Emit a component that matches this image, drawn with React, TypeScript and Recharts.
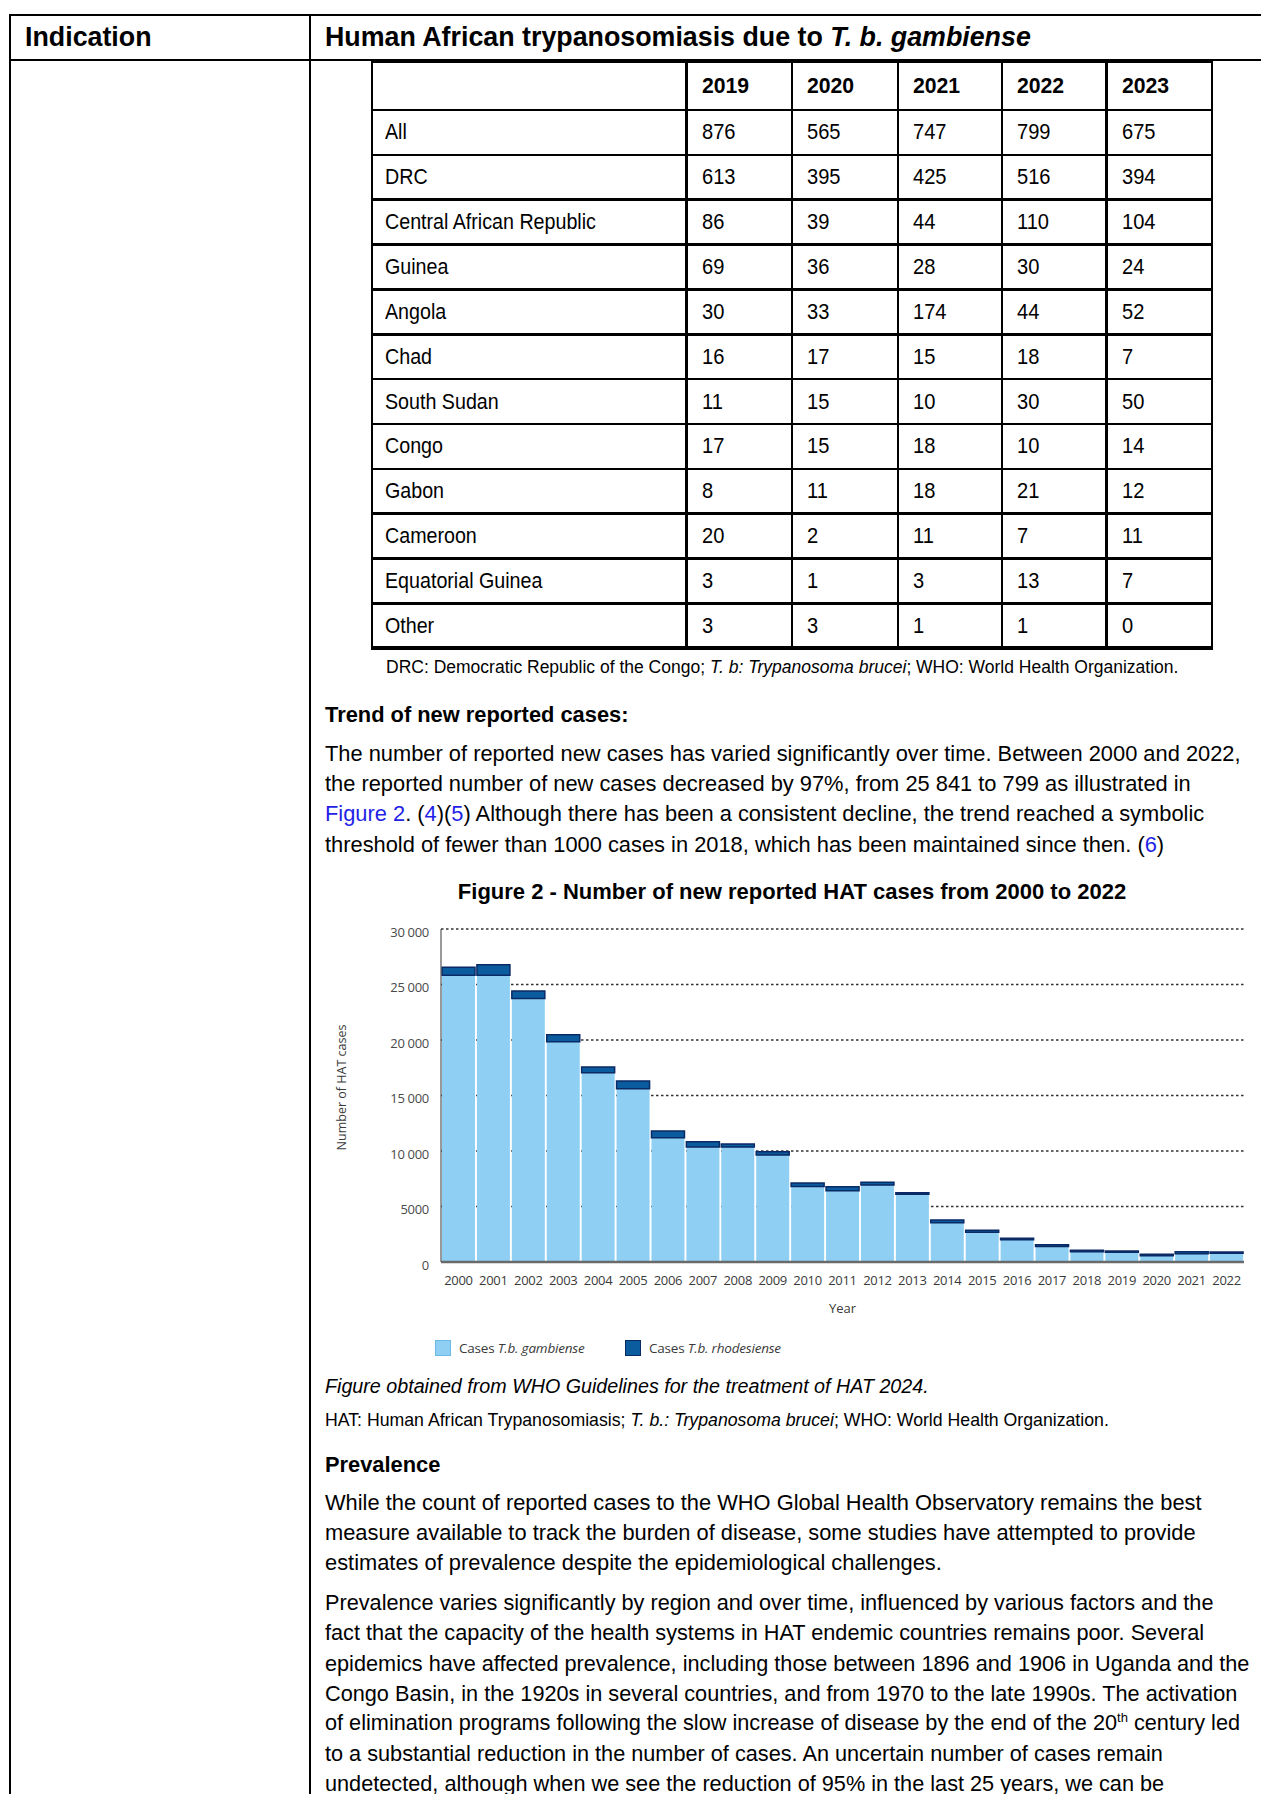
import React from 'react';
import { BarChart, Bar, XAxis, YAxis, CartesianGrid, Legend } from 'recharts';

// chart data
const years = ['2000', '2001', '2002', '2003', '2004', '2005', '2006', '2007', '2008', '2009', '2010', '2011',
  '2012', '2013', '2014', '2015', '2016', '2017', '2018', '2019', '2020', '2021', '2022'];
const gambienseCases = [25841, 25830, 23750, 19850, 17050, 15600, 11200, 10350, 10350, 9650, 6800, 6420,
  6930, 6100, 3530, 2680, 2000, 1400, 930, 876, 565, 747, 799];
const rhodesienseCases = [720, 960, 660, 630, 520, 700, 600, 490, 280, 280, 310, 370,
  260, 150, 250, 180, 150, 150, 120, 120, 130, 180, 110];
const yTicks = [0, 5000, 10000, 15000, 20000, 25000, 30000];
const yTickLabels = ['0', '5000', '10 000', '15 000', '20 000', '25 000', '30 000'];
const seriesNames = ['T.b. gambiense', 'T.b. rhodesiense'];

// table data
const tableYears = ['2019', '2020', '2021', '2022', '2023'];
const countries = ['All', 'DRC', 'Central African Republic', 'Guinea', 'Angola', 'Chad', 'South Sudan',
  'Congo', 'Gabon', 'Cameroon', 'Equatorial Guinea', 'Other'];
const countryCases = [
  [876, 565, 747, 799, 675],
  [613, 395, 425, 516, 394],
  [86, 39, 44, 110, 104],
  [69, 36, 28, 30, 24],
  [30, 33, 174, 44, 52],
  [16, 17, 15, 18, 7],
  [11, 15, 10, 30, 50],
  [17, 15, 18, 10, 14],
  [8, 11, 18, 21, 12],
  [20, 2, 11, 7, 11],
  [3, 1, 3, 13, 7],
  [3, 3, 1, 1, 0],
];

const chartData = years.map((year, i) => ({
  year,
  gambiense: gambienseCases[i],
  rhodesiense: rhodesienseCases[i],
}));

const FONT = "'Liberation Sans', Arial, sans-serif";
const CHART_FONT = "'Open Sans', sans-serif";
const LINK = '#1f1fe6';
const LIGHT = '#8fcff3';
const DARK = '#0b5c9f';

function Txt({ x, y, size = 21.85, bold = false, italic = false, center = false, sx, children }: any) {
  let transform: string | undefined;
  if (center) transform = 'translateX(-50%)';
  if (sx) transform = `scaleX(${sx})`;
  return (
    <div
      style={{
        position: 'absolute',
        left: x,
        top: y - 15,
        lineHeight: '30px',
        fontSize: size,
        fontWeight: bold ? 700 : 400,
        fontStyle: italic ? 'italic' : 'normal',
        whiteSpace: 'nowrap',
        transform,
        transformOrigin: 'left center',
        color: '#000',
      }}
    >
      {children}
    </div>
  );
}

function HLine({ x1, x2, y, w = 2 }: any) {
  return <div style={{ position: 'absolute', left: x1, top: y - w / 2, width: x2 - x1, height: w, background: '#000' }} />;
}
function VLine({ x, y1, y2, w = 2 }: any) {
  return <div style={{ position: 'absolute', left: x - w / 2, top: y1, width: w, height: y2 - y1, background: '#000' }} />;
}

const colX = [372, 686.6, 792, 898, 1002, 1106.6, 1212];
const rowY = [62, 110, ...countries.map((_, i) => 110 + (i + 1) * 44.86)];

function CountryTable() {
  return (
    <>
      {rowY.map((y, i) => (
        <HLine key={'h' + i} x1={colX[0] - 1} x2={colX[6] + 1} y={y} w={i === rowY.length - 1 ? 4 : 2.5} />
      ))}
      {colX.map((x, i) => (
        <VLine key={'v' + i} x={x} y1={rowY[0]} y2={rowY[rowY.length - 1]} w={2.5} />
      ))}
      {tableYears.map((yr, j) => (
        <Txt key={yr} x={colX[j + 1] + 15} y={(rowY[0] + rowY[1]) / 2} bold sx={0.97}>
          {yr}
        </Txt>
      ))}
      {countries.map((c, i) => (
        <React.Fragment key={c}>
          <Txt x={colX[0] + 13} y={(rowY[i + 1] + rowY[i + 2]) / 2} sx={0.9}>{c}</Txt>
          {countryCases[i].map((v, j) => (
            <Txt key={j} x={colX[j + 1] + 15} y={(rowY[i + 1] + rowY[i + 2]) / 2} sx={0.92}>{v}</Txt>
          ))}
        </React.Fragment>
      ))}
    </>
  );
}

const legendBorders = ['#6cb9e8', '#0a2a66'];

function renderLegend(props: any) {
  const { payload } = props;
  return (
    <div style={{ height: 24, display: 'flex', alignItems: 'center', paddingLeft: 105, fontFamily: CHART_FONT, fontSize: 13.5, color: '#3a3a3a' }}>
      {(payload || []).map((entry: any, i: number) => (
        <div key={i} style={{ width: 190, display: 'flex', alignItems: 'center' }}>
          <span style={{ width: 14, height: 14, background: entry.color, border: `1px solid ${legendBorders[i]}`, marginRight: 8 }} />
          <span style={{ letterSpacing: -0.2 }}>
            Cases <i>{entry.value}</i>
          </span>
        </div>
      ))}
    </div>
  );
}

function renderYLabel(props: any) {
  const vb = props.viewBox || { x: 0, y: 29, width: 111, height: 333 };
  const cx = vb.x + 11;
  const cy = vb.y + vb.height / 2 - 8;
  return (
    <text x={cx} y={cy} transform={`rotate(-90 ${cx} ${cy})`} textAnchor="middle" dominantBaseline="central"
      fontFamily={CHART_FONT} fontSize={12.5} fill="#3a3a3a">
      Number of HAT cases
    </text>
  );
}

function CasesChart() {
  return (
    <div style={{ position: 'absolute', left: 330, top: 900 }}>
      <BarChart width={931} height={470} data={chartData} margin={{ top: 29, right: 17, left: 0, bottom: 10 }} barCategoryGap={1}>
        <CartesianGrid vertical={false} stroke="#333" strokeDasharray="2.5 2.5" strokeWidth={1.7} />
        <XAxis
          dataKey="year"
          height={74}
          interval={0}
          tickLine={false}
          tickSize={0}
          tickMargin={14}
          axisLine={{ stroke: '#6a6a6a', strokeWidth: 2.5 }}
          tick={{ fontSize: 13, fill: '#3a3a3a', fontFamily: CHART_FONT, letterSpacing: -0.3 }}
          label={{ value: 'Year', position: 'insideBottom', offset: 23, fontSize: 13, fill: '#3a3a3a', fontFamily: CHART_FONT }}
        />
        <YAxis
          width={111}
          domain={[0, 30000]}
          ticks={yTicks}
          tickFormatter={(v: number) => yTickLabels[yTicks.indexOf(v)]}
          tickLine={false}
          tickSize={0}
          tickMargin={12}
          axisLine={{ stroke: '#555', strokeWidth: 1.2 }}
          tick={{ fontSize: 13, fill: '#4a4a4a', fontFamily: CHART_FONT, dy: 3, letterSpacing: -0.3 }}
          label={renderYLabel}
        />
        <Legend verticalAlign="bottom" align="left" content={renderLegend} />
        <Bar dataKey="gambiense" name={seriesNames[0]} stackId="a" fill={LIGHT} isAnimationActive={false} />
        <Bar dataKey="rhodesiense" name={seriesNames[1]} stackId="a" fill={DARK} stroke="#0a2a66" strokeWidth={1.5} isAnimationActive={false} />
      </BarChart>
    </div>
  );
}

export default function App() {
  return (
    <div style={{ position: 'absolute', left: 0, top: 0, width: 1261, height: 1794, overflow: 'hidden', background: '#fff', fontFamily: FONT }}>
      {/* outer document table */}
      <HLine x1={9} x2={1261} y={15} w={2} />
      <HLine x1={9} x2={1261} y={60} w={2} />
      <VLine x={10} y1={14} y2={1794} w={2} />
      <VLine x={310} y1={14} y2={1794} w={2} />
      <Txt x={25} y={37} size={26.8} bold>Indication</Txt>
      <Txt x={325} y={37} size={26.8} bold>
        Human African trypanosomiasis due to <i>T. b. gambiense</i>
      </Txt>

      <CountryTable />

      <Txt x={386} y={667} size={17.5}>
        DRC: Democratic Republic of the Congo; <i>T. b: Trypanosoma brucei</i>; WHO: World Health Organization.
      </Txt>

      <Txt x={325} y={715} bold>Trend of new reported cases:</Txt>
      <Txt x={325} y={754}>The number of reported new cases has varied significantly over time. Between 2000 and 2022,</Txt>
      <Txt x={325} y={784}>the reported number of new cases decreased by 97%, from 25 841 to 799 as illustrated in</Txt>
      <Txt x={325} y={814}>
        <span style={{ color: LINK }}>Figure 2</span>. (<span style={{ color: LINK }}>4</span>)(<span style={{ color: LINK }}>5</span>) Although there has been a consistent decline, the trend reached a symbolic
      </Txt>
      <Txt x={325} y={844.5}>
        threshold of fewer than 1000 cases in 2018, which has been maintained since then. (<span style={{ color: LINK }}>6</span>)
      </Txt>

      <Txt x={792} y={891.5} size={22} bold center>Figure 2 - Number of new reported HAT cases from 2000 to 2022</Txt>

      <CasesChart />

      <Txt x={325} y={1386} size={19.7} italic>Figure obtained from WHO Guidelines for the treatment of HAT 2024.</Txt>
      <Txt x={325} y={1420} size={17.7}>
        HAT: Human African Trypanosomiasis; <i>T. b.: Trypanosoma brucei</i>; WHO: World Health Organization.
      </Txt>

      <Txt x={325} y={1465} bold>Prevalence</Txt>
      <Txt x={325} y={1502.5}>While the count of reported cases to the WHO Global Health Observatory remains the best</Txt>
      <Txt x={325} y={1533.4}>measure available to track the burden of disease, some studies have attempted to provide</Txt>
      <Txt x={325} y={1563.2}>estimates of prevalence despite the epidemiological challenges.</Txt>
      <Txt x={325} y={1603.2} size={21.7}>Prevalence varies significantly by region and over time, influenced by various factors and the</Txt>
      <Txt x={325} y={1633} size={21.7}>fact that the capacity of the health systems in HAT endemic countries remains poor. Several</Txt>
      <Txt x={325} y={1663.8} size={21.7}>epidemics have affected prevalence, including those between 1896 and 1906 in Uganda and the</Txt>
      <Txt x={325} y={1693.6} size={21.7}>Congo Basin, in the 1920s in several countries, and from 1970 to the late 1990s. The activation</Txt>
      <Txt x={325} y={1723.3} size={21.7}>
        of elimination programs following the slow increase of disease by the end of the 20<sup style={{ fontSize: 13, lineHeight: 0 }}>th</sup> century led
      </Txt>
      <Txt x={325} y={1754.2} size={21.7}>to a substantial reduction in the number of cases. An uncertain number of cases remain</Txt>
      <Txt x={325} y={1784} size={21.7}>undetected, although when we see the reduction of 95% in the last 25 years, we can be</Txt>
    </div>
  );
}
